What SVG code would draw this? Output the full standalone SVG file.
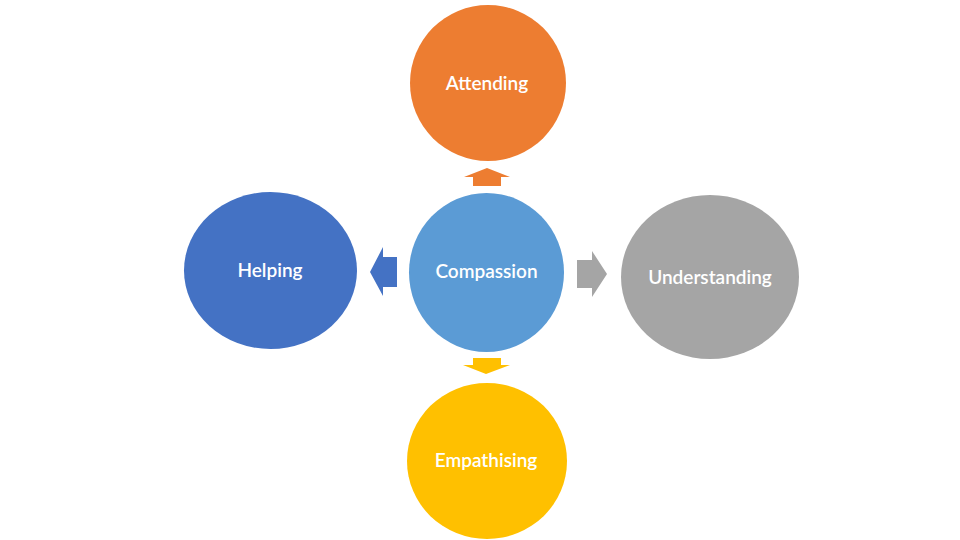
<svg xmlns="http://www.w3.org/2000/svg" width="960" height="540" viewBox="0 0 960 540">
<style>
  text { font-family: "Lato", "Open Sans", "Liberation Sans", sans-serif; font-size: 19px; font-weight: 600; fill: #ffffff; text-anchor: middle; }
</style>
<rect width="960" height="540" fill="#ffffff"/>
<g id="connectors">
  <polygon id="arrow-up" fill="#ED7D31" points="487,168 510,177 501,177 501,186 473,186 473,177 464,177"/>
  <polygon id="arrow-left" fill="#4472C4" points="370,272 383,247 383,257 397,257 397,287 383,287 383,296"/>
  <polygon id="arrow-right" fill="#A5A5A5" points="607,274 592,251 592,260 577,260 577,288 592,288 592,297"/>
  <polygon id="arrow-down" fill="#FFC000" points="486,374 510,365 501,365 501,358 473,358 473,365 463,365"/>
</g>
<g id="node-attending">
  <ellipse cx="488" cy="83" rx="78" ry="78" fill="#ED7D31"/>
  <text x="487" y="90">Attending</text>
</g>
<g id="node-helping">
  <ellipse cx="270.5" cy="270.5" rx="86.5" ry="78.5" fill="#4472C4"/>
  <text x="270" y="277">Helping</text>
</g>
<g id="node-compassion">
  <ellipse cx="486.5" cy="272.5" rx="77.5" ry="79.5" fill="#5B9BD5"/>
  <text x="486.5" y="278">Compassion</text>
</g>
<g id="node-understanding">
  <ellipse cx="710" cy="277" rx="89" ry="82" fill="#A5A5A5"/>
  <text x="710" y="284">Understanding</text>
</g>
<g id="node-empathising">
  <ellipse cx="487" cy="461" rx="80" ry="78" fill="#FFC000"/>
  <text x="486" y="467">Empathising</text>
</g>
</svg>
